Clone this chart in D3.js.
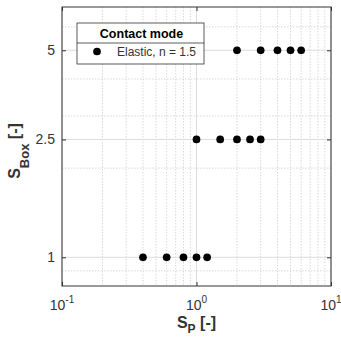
<!DOCTYPE html>
<html>
<head>
<meta charset="utf-8">
<script src="https://cdn.jsdelivr.net/npm/d3@7"></script>
<style>
  body { margin: 0; background: #fff; }
  svg { display: block; font-family: "Liberation Sans", Arial, sans-serif; }
</style>
</head>
<body>
<div id="chart"></div>
<script>
// Données
const spElastic = [0.4, 0.6, 0.8, 1.0, 1.2, 1.0, 1.5, 2.0, 2.5, 3.0, 2.0, 3.0, 4.0, 5.0, 6.0];
const sboxElastic = [1, 1, 1, 1, 1, 2.5, 2.5, 2.5, 2.5, 2.5, 5, 5, 5, 5, 5];
const xTickExps = [-1, 0, 1];
const yTicks = [1, 2.5, 5];
const yMinor = [0.9, 2, 3, 4, 6];
const xMinor = [0.2, 0.3, 0.4, 0.5, 0.6, 0.7, 0.8, 0.9, 2, 3, 4, 5, 6, 7, 8, 9];
const legendTitle = "Contact mode";
const legendLabel = "Elastic, n = 1.5";

// Configuration
const W = 341, H = 343;
const margin = {top: 7, right: 10, bottom: 57, left: 62};
const width = W - margin.left - margin.right;
const height = H - margin.top - margin.bottom;
const axisColor = "#333";

const svg = d3.select("#chart").append("svg")
    .attr("width", W)
    .attr("height", H);

const g = svg.append("g")
    .attr("transform", `translate(${margin.left},${margin.top})`);

const x = d3.scaleLog().domain([0.1, 10]).range([0, width]);
const y = d3.scaleLog().domain([0.8, 7]).range([height, 0]);

// Grille mineure
g.selectAll(".xminor").data(xMinor).enter().append("line")
    .attr("x1", d => x(d)).attr("x2", d => x(d))
    .attr("y1", 0).attr("y2", height)
    .attr("stroke", "#cfcfcf").attr("stroke-width", 0.8)
    .attr("stroke-dasharray", "1.5,1.5");

g.selectAll(".yminor").data(yMinor).enter().append("line")
    .attr("x1", 0).attr("x2", width)
    .attr("y1", d => y(d)).attr("y2", d => y(d))
    .attr("stroke", "#cfcfcf").attr("stroke-width", 0.8)
    .attr("stroke-dasharray", "1.5,1.5");

// Grille majeure
g.selectAll(".xmajor").data(xTickExps).enter().append("line")
    .attr("x1", d => x(Math.pow(10, d))).attr("x2", d => x(Math.pow(10, d)))
    .attr("y1", 0).attr("y2", height)
    .attr("stroke", "#dcdcdc").attr("stroke-width", 1);

g.selectAll(".ymajor").data(yTicks).enter().append("line")
    .attr("x1", 0).attr("x2", width)
    .attr("y1", d => y(d)).attr("y2", d => y(d))
    .attr("stroke", "#dcdcdc").attr("stroke-width", 1);

// Axes (ticks vers l'intérieur)
const xAxis = d3.axisBottom(x)
    .tickValues(xTickExps.map(e => Math.pow(10, e)))
    .tickSize(-4).tickFormat("");
const xAxisTop = d3.axisTop(x)
    .tickValues(xTickExps.map(e => Math.pow(10, e)))
    .tickSize(-4).tickFormat("");
const yAxis = d3.axisLeft(y).tickValues(yTicks).tickSize(-4).tickFormat("");
const yAxisRight = d3.axisRight(y).tickValues(yTicks).tickSize(-4).tickFormat("");

[[xAxis, `translate(0,${height})`], [xAxisTop, null], [yAxis, null], [yAxisRight, `translate(${width},0)`]]
    .forEach(([ax, tr]) => {
        const a = g.append("g").call(ax);
        if (tr) a.attr("transform", tr);
        a.select(".domain").remove();
        a.selectAll("line").attr("stroke", axisColor);
    });

g.append("rect")
    .attr("width", width).attr("height", height)
    .attr("fill", "none")
    .attr("stroke", axisColor).attr("stroke-width", 1);

// Labels des ticks X
xTickExps.forEach(e => {
    const t = g.append("text")
        .attr("x", x(Math.pow(10, e)))
        .attr("y", 310 - margin.top)
        .attr("text-anchor", "middle")
        .attr("font-size", 14)
        .attr("fill", axisColor);
    t.append("tspan").text("10");
    t.append("tspan").attr("dy", -7).attr("font-size", 10).text(e);
});

// Labels des ticks Y
g.selectAll(".ylab").data(yTicks).enter().append("text")
    .attr("x", -7)
    .attr("y", d => y(d))
    .attr("dy", "0.36em")
    .attr("text-anchor", "end")
    .attr("font-size", 14)
    .attr("fill", axisColor)
    .text(d => d);

// Labels des axes
const xl = svg.append("text")
    .attr("x", margin.left + width / 2)
    .attr("y", 328)
    .attr("text-anchor", "middle")
    .attr("font-size", 16)
    .attr("font-weight", "bold")
    .attr("fill", axisColor);
xl.append("tspan").text("S");
xl.append("tspan").attr("dy", 5).attr("font-size", 12).text("P");
xl.append("tspan").attr("dy", -5).text(" [-]");

const yl = svg.append("text")
    .attr("transform", `translate(19.5,151) rotate(-90)`)
    .attr("text-anchor", "middle")
    .attr("font-size", 16)
    .attr("font-weight", "bold")
    .attr("fill", axisColor);
yl.append("tspan").text("S");
yl.append("tspan").attr("dy", 9).attr("font-size", 13).text("Box");
yl.append("tspan").attr("dy", -9).text(" [-]");

// Points
g.selectAll(".dot")
    .data(spElastic.map((v, i) => [v, sboxElastic[i]]))
    .enter().append("circle")
    .attr("cx", d => x(d[0]))
    .attr("cy", d => y(d[1]))
    .attr("r", 3.85)
    .attr("fill", "#000");

// Légende
const lx = 77 - margin.left, ly = 23 - margin.top, lw = 127, lh = 41;
const legend = g.append("g").attr("transform", `translate(${lx},${ly})`);
legend.append("rect")
    .attr("width", lw).attr("height", lh)
    .attr("fill", "#fff")
    .attr("stroke", axisColor).attr("stroke-width", 0.8);
legend.append("line")
    .attr("x1", 0).attr("x2", lw)
    .attr("y1", 20).attr("y2", 20)
    .attr("stroke", axisColor).attr("stroke-width", 0.8);
legend.append("text")
    .attr("x", lw / 2 + 1).attr("y", 15)
    .attr("text-anchor", "middle")
    .attr("font-size", 12.5)
    .attr("font-weight", "bold")
    .attr("fill", "#000")
    .text(legendTitle);
legend.append("circle")
    .attr("cx", 20).attr("cy", 28.5).attr("r", 3.85).attr("fill", "#000");
legend.append("text")
    .attr("x", 40).attr("y", 33)
    .attr("font-size", 12)
    .attr("fill", axisColor)
    .text(legendLabel);
</script>
</body>
</html>
